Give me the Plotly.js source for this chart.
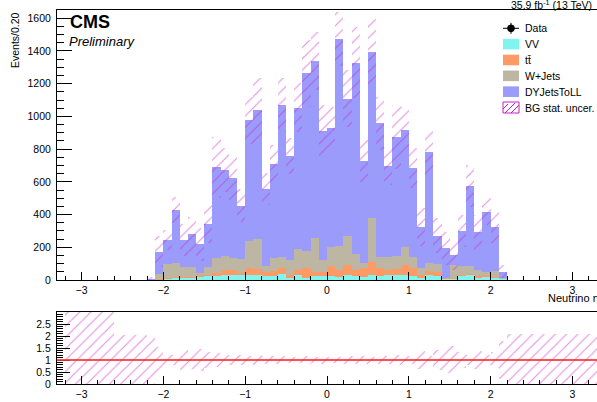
<!DOCTYPE html>
<html><head><meta charset="utf-8">
<script src="https://cdn.plot.ly/plotly-3.0.1.min.js"></script>
<style>html,body{margin:0;padding:0;background:#fff}#chart{width:597px;height:402px}</style>
</head><body><div id="chart"></div>
<script>
// bin centres (bin width 0.1 in neutrino eta)
const eta = [-2.15,-2.05,-1.95,-1.85,-1.75,-1.65,-1.55,-1.45,-1.35,-1.25,-1.15,-1.05,-0.95,-0.85,-0.75,-0.65,-0.55,-0.45,-0.35,-0.25,-0.15,-0.05,0.05,0.15,0.25,0.35,0.45,0.55,0.65,0.75,0.85,0.95,1.05,1.15,1.25,1.35,1.45,1.55,1.65,1.75,1.85,1.95,2.05,2.15];
const vv     = [0, 3,5,10,12,15,20,24,24,28,30, 28,30,30,22,24,37,10,31,14,24, 24,27,20,31,24,20,31,27,31,30, 28,24,14,28,22,6,6,27,31,10, 16,10,4];
const ttbar  = [0, 5,5,6,6,5,10,8,16,33,31, 13,45,35,29,33,34,21,30,61,27, 27,56,41,60,37,51,77,44,30,35, 63,47,17,27,29,4,4,4,4,14, 15,10,2];
const wjets  = [0, 27,86,86,59,57,15,49,96,88,75, 85,163,183,34,79,67,91,126,102,203, 71,121,149,178,96,35,273,70,82,84, 113,72,40,51,45,4,82,57,53,36, 19,37,6];
const dyjets = [8, 138,148,325,167,202,173,261,552,523,485, 328,739,790,471,572,931,635,865,1085,1085, 790,726,1262,840,1172,621,1013,816,553,726, 712,539,251,674,175,180,61,211,486,231, 367,269,39];
const statErr= [8, 95,60,81,100,108,100,116,187,132,132, 100,143,198,96,116,163,108,149,204,178, 157,130,165,173,218,128,200,163,118,194, 143,122,116,137,108,102,92,98,128,106, 82,102,41];
// ratio-panel uncertainty in regions with (almost) empty background
const outerLo = [-3.2, -2.6, 2.2];
const outerHi = [-2.6, -2.2, 3.3];
const outerRatioTop = [3.5, 2.05, 2.1];
const legendLabels = ['Data','VV','tt\u0304','W+Jets','DYJetsToLL','BG stat. uncer.'];

const FONT = 'Liberation Sans, Arial, Helvetica, sans-serif';
const C_VV='#80f4ee', C_TT='#fd9a66', C_WJ='#bcb6a2', C_DY='#9b9bfb', C_HATCH='#c81ec8';
const BW = 0.1;

const total = eta.map((_, i) => vv[i] + ttbar[i] + wjets[i] + dyjets[i]);
const hatchBase = total.map((t, i) => Math.max(0, t - statErr[i]));
const hatchLen  = total.map((t, i) => t + statErr[i] - hatchBase[i]);

function stackBar(y, color) {
  return {type:'bar', x:eta, y:y, width:BW, xaxis:'x', yaxis:'y',
    marker:{color:color, line:{width:0}}, showlegend:false, hoverinfo:'skip'};
}
const pattern = {shape:'/', fgcolor:C_HATCH, bgcolor:'rgba(0,0,0,0)', size:8, solidity:0.14, fillmode:'overlay'};

const rX = [], rBase = [], rLen = [], rW = [];
eta.forEach((x, i) => {
  const rel = statErr[i] / total[i];
  const lo = Math.max(0, 1 - rel), hi = 1 + rel;
  rX.push(x); rBase.push(lo); rLen.push(hi - lo); rW.push(BW);
});
outerLo.forEach((lo, i) => {
  rX.push((lo + outerHi[i]) / 2); rBase.push(0); rLen.push(outerRatioTop[i]); rW.push(outerHi[i] - lo);
});

const traces = [
  stackBar(vv, C_VV), stackBar(ttbar, C_TT), stackBar(wjets, C_WJ), stackBar(dyjets, C_DY),
  {type:'bar', x:eta, y:hatchLen, base:hatchBase, width:BW, xaxis:'x', yaxis:'y',
   marker:{color:'rgba(0,0,0,0)', line:{width:0}, pattern:pattern}, showlegend:false, hoverinfo:'skip'},
  {type:'bar', x:rX, y:rLen, base:rBase, width:rW, xaxis:'x2', yaxis:'y2',
   marker:{color:'rgba(0,0,0,0)', line:{width:0}, pattern:pattern}, showlegend:false, hoverinfo:'skip'}
];

// pixel -> paper helpers (plot area 57..597 x 10..384)
const px = x => (x - 57) / 540;
const py = y => (384 - y) / 374;

const axisCommon = {showline:true, mirror:true, linecolor:'#000', linewidth:1, showgrid:false, zeroline:false,
  ticks:'inside', tickcolor:'#000', tickwidth:1, tickfont:{family:FONT, size:10.5, color:'#000'}};

const xCommon = Object.assign({}, axisCommon, {range:[-3.3,3.3], tick0:0, dtick:1, ticklen:8,
  minor:{ticks:'inside', dtick:0.2, tick0:0, ticklen:4, tickcolor:'#000', tickwidth:1}});

const shapes = [
  {type:'line', xref:'x2', yref:'y2', x0:-3.3, x1:3.3, y0:1, y1:1, line:{color:'rgba(255,50,50,0.85)', width:2}}
];
const annotations = [
  {xref:'paper', yref:'paper', x:px(68), y:py(21.5), xanchor:'left', yanchor:'middle', showarrow:false,
   text:'<b>CMS</b>', font:{family:FONT, size:18, color:'#000'}},
  {xref:'paper', yref:'paper', x:px(67), y:py(41), xanchor:'left', yanchor:'middle', showarrow:false,
   text:'<i>Preliminary</i>', font:{family:FONT, size:13, color:'#000'}},
  {xref:'paper', yref:'paper', x:px(594), y:py(4.5), xanchor:'right', yanchor:'middle', showarrow:false,
   text:'35.9 fb<sup>-1</sup> (13 TeV)', font:{family:FONT, size:10.5, color:'#000'}},
  {xref:'paper', yref:'paper', x:px(15), y:py(40), xanchor:'center', yanchor:'middle', showarrow:false, textangle:-90,
   text:'Events/0.20', font:{family:FONT, size:10.5, color:'#000'}},
  {xref:'paper', yref:'paper', x:px(546), y:py(297.5), xanchor:'left', yanchor:'middle', showarrow:false,
   text:'Neutrino \u03b7', font:{family:FONT, size:11, color:'#000'}}
];

// manual legend
const rowY = legendLabels.map((_, i) => 28.3 + 15.84 * i);
legendLabels.forEach((lab, i) => {
  annotations.push({xref:'paper', yref:'paper', x:px(522.5), y:py(rowY[i]), xanchor:'left', yanchor:'middle',
    showarrow:false, text:lab, font:{family:FONT, size:10.5, color:'#000'}});
});
const boxColors = [null, C_VV, C_TT, C_WJ, C_DY];
for (let i = 1; i <= 4; i++) {
  shapes.push({type:'rect', xref:'paper', yref:'paper', x0:px(503), x1:px(519), y0:py(rowY[i]-5.3), y1:py(rowY[i]+5.3),
    fillcolor:boxColors[i], line:{width:0}});
}
// data entry: marker with error bars
shapes.push({type:'line', xref:'paper', yref:'paper', x0:px(503), x1:px(519), y0:py(rowY[0]), y1:py(rowY[0]), line:{color:'#000', width:1}});
shapes.push({type:'line', xref:'paper', yref:'paper', x0:px(511), x1:px(511), y0:py(rowY[0]-5.5), y1:py(rowY[0]+5.5), line:{color:'#000', width:1}});
shapes.push({type:'circle', xref:'paper', yref:'paper', x0:px(507.6), x1:px(514.4), y0:py(rowY[0]-3.4), y1:py(rowY[0]+3.4), fillcolor:'#000', line:{color:'#000', width:1}});
// hatch entry
const hy = rowY[5];
shapes.push({type:'rect', xref:'paper', yref:'paper', x0:px(503), x1:px(519), y0:py(hy-5.5), y1:py(hy+5.5), line:{color:C_HATCH, width:1}, fillcolor:'rgba(0,0,0,0)'});
[[503,hy+1.5,508,hy-3.5],[505,hy+5.5,515,hy-4.5],[511,hy+5.5,519,hy-2.5]].forEach(s => {
  shapes.push({type:'line', xref:'paper', yref:'paper', x0:px(s[0]), y0:py(s[1]), x1:px(s[2]), y1:py(s[3]), line:{color:C_HATCH, width:1}});
});

const layout = {
  width:597, height:402, margin:{l:57, r:0, t:10, b:18, pad:0},
  paper_bgcolor:'#fff', plot_bgcolor:'#fff', barmode:'stack', bargap:0, showlegend:false,
  font:{family:FONT, size:10.5, color:'#000'},
  xaxis: Object.assign({}, xCommon, {domain:[0,1], anchor:'y'}),
  yaxis: Object.assign({}, axisCommon, {domain:[py(280),1], anchor:'x', range:[0,1650], tick0:0, dtick:200, ticklen:15,
    ticklabelstandoff:3, minor:{ticks:'inside', dtick:50, tick0:0, ticklen:7, tickcolor:'#000', tickwidth:1}}),
  xaxis2: Object.assign({}, xCommon, {domain:[0,1], anchor:'y2', matches:'x'}),
  yaxis2: Object.assign({}, axisCommon, {domain:[0,py(312)], anchor:'x2', range:[0,3], tickvals:[0,0.5,1,1.5,2,2.5], ticklen:13,
    ticklabelstandoff:3, minor:{ticks:'inside', dtick:0.1, tick0:0, ticklen:6, tickcolor:'#000', tickwidth:1}}),
  shapes:shapes, annotations:annotations
};

Plotly.newPlot('chart', traces, layout, {staticPlot:true, displayModeBar:false});
</script></body></html>
